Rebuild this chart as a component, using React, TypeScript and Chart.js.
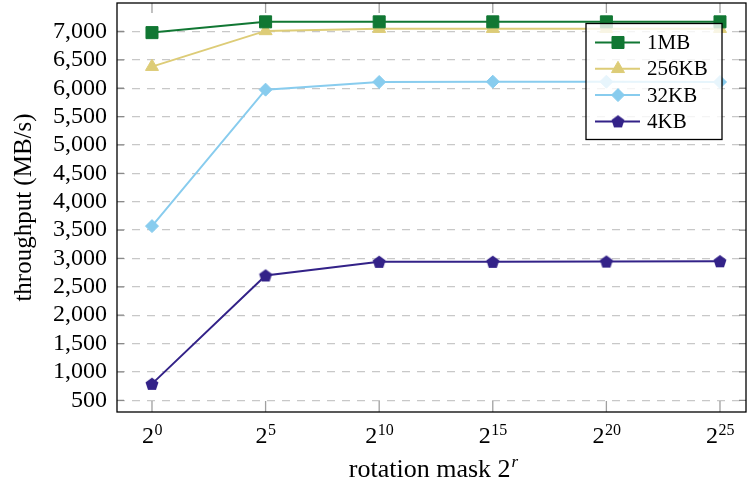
import React, { useEffect, useRef } from "react";
import { Chart, registerables } from "chart.js";
import { drawPoint } from "chart.js/helpers";

Chart.register(...registerables);

const exponents = ["0", "5", "10", "15", "20", "25"];
const seriesLabels = ["1MB", "256KB", "32KB", "4KB"];
const mb1 = [6980, 7170, 7170, 7170, 7170, 7170];
const kb256 = [6380, 7010, 7050, 7050, 7050, 7050];
const kb32 = [3570, 5975, 6110, 6115, 6115, 6110];
const kb4 = [790, 2700, 2940, 2940, 2945, 2950];
const yTicks = [500, 1000, 1500, 2000, 2500, 3000, 3500, 4000, 4500, 5000, 5500, 6000, 6500, 7000];

const SERIF = "'Liberation Serif', 'Times New Roman', serif";

function makePentagon(color: string, r: number): HTMLCanvasElement {
  const size = Math.ceil(r * 2 + 2);
  const c = document.createElement("canvas");
  c.width = size;
  c.height = size;
  const ctx = c.getContext("2d")!;
  const cx = size / 2;
  const cy = size / 2 + 0.5;
  ctx.beginPath();
  for (let i = 0; i < 5; i++) {
    const a = -Math.PI / 2 + (i * 2 * Math.PI) / 5;
    const x = cx + r * Math.cos(a);
    const y = cy + r * Math.sin(a);
    if (i === 0) ctx.moveTo(x, y);
    else ctx.lineTo(x, y);
  }
  ctx.closePath();
  ctx.fillStyle = color;
  ctx.fill();
  return c;
}

export default function App() {
  const ref = useRef<HTMLCanvasElement>(null);

  useEffect(() => {
    document.body.style.margin = "0";
    const canvas = ref.current!;
    const colors = ["#117733", "#DDCC77", "#88CCEE", "#332288"];
    const pent = makePentagon(colors[3], 6.8);
    const styles: any[] = ["rect", "triangle", "rectRot", pent];
    const radii = [8.5, 7.5, 6.5, 7];
    const values = [mb1, kb256, kb32, kb4];

    const datasets = values.map((vals, i) => ({
      label: seriesLabels[i],
      data: vals.map((v, j) => ({ x: j, y: v })),
      borderColor: colors[i],
      backgroundColor: colors[i],
      pointBackgroundColor: colors[i],
      pointBorderColor: colors[i],
      pointBorderWidth: 1,
      pointStyle: styles[i],
      pointRadius: radii[i],
      borderWidth: 2,
      tension: 0,
      clip: 12,
    }));

    const deco = {
      id: "deco",
      beforeDatasetsDraw(chart: any) {
        const { ctx, chartArea: a, scales } = chart;
        ctx.save();
        ctx.strokeStyle = "#8a8a8a";
        ctx.lineWidth = 1.3;
        yTicks.forEach((v) => {
          const y = scales.y.getPixelForValue(v);
          ctx.beginPath();
          ctx.moveTo(a.left, y);
          ctx.lineTo(a.left + 7, y);
          ctx.moveTo(a.right - 7, y);
          ctx.lineTo(a.right, y);
          ctx.stroke();
        });
        ctx.strokeStyle = "#a0a0a0";
        exponents.forEach((_, i) => {
          const x = scales.x.getPixelForValue(i);
          ctx.beginPath();
          ctx.moveTo(x, a.bottom);
          ctx.lineTo(x, a.bottom - 11);
          ctx.moveTo(x, a.top);
          ctx.lineTo(x, a.top + 10);
          ctx.stroke();
        });
        ctx.restore();
      },
      afterDraw(chart: any) {
        const { ctx, chartArea: a, scales } = chart;
        ctx.save();
        ctx.strokeStyle = "#000";
        ctx.lineWidth = 1.3;
        ctx.strokeRect(a.left, a.top, a.right - a.left, a.bottom - a.top);

        ctx.fillStyle = "#000";
        ctx.textBaseline = "alphabetic";
        exponents.forEach((e, i) => {
          const x = scales.x.getPixelForValue(i);
          ctx.font = `24px ${SERIF}`;
          const wb = ctx.measureText("2").width;
          ctx.font = `16px ${SERIF}`;
          const we = ctx.measureText(e).width;
          const start = x - (wb + we) / 2;
          ctx.font = `24px ${SERIF}`;
          ctx.textAlign = "left";
          ctx.fillText("2", start, 443);
          ctx.font = `16px ${SERIF}`;
          ctx.fillText(e, start + wb + 0.5, 435);
        });

        const cx = (a.left + a.right) / 2;
        ctx.font = `26px ${SERIF}`;
        const t1 = "rotation mask 2";
        const w1 = ctx.measureText(t1).width;
        ctx.font = `italic 17px ${SERIF}`;
        const w2 = ctx.measureText("r").width;
        const sx = cx - (w1 + w2 + 1) / 2 + 2;
        ctx.font = `26px ${SERIF}`;
        ctx.textAlign = "left";
        ctx.fillText(t1, sx, 477);
        ctx.font = `italic 17px ${SERIF}`;
        ctx.fillText("r", sx + w1 + 1, 467);

        const bx = a.right - 160;
        const by = a.top + 20.5;
        const bw = 136;
        const bh = 116;
        ctx.fillStyle = "rgba(255,255,255,0.8)";
        ctx.fillRect(bx, by, bw, bh);
        ctx.strokeStyle = "#000";
        ctx.lineWidth = 1.3;
        ctx.strokeRect(bx, by, bw, bh);
        chart.data.datasets.forEach((ds: any, i: number) => {
          const y = by + 19 + i * 26.3;
          ctx.strokeStyle = ds.borderColor;
          ctx.lineWidth = 2;
          ctx.beginPath();
          ctx.moveTo(bx + 9, y);
          ctx.lineTo(bx + 54, y);
          ctx.stroke();
          ctx.fillStyle = ds.pointBackgroundColor;
          ctx.strokeStyle = ds.pointBorderColor;
          ctx.lineWidth = 1;
          drawPoint(ctx, { pointStyle: ds.pointStyle, radius: ds.pointRadius, rotation: 0, borderWidth: 1 }, bx + 32, y);
          ctx.fillStyle = "#000";
          ctx.font = `21px ${SERIF}`;
          ctx.textAlign = "left";
          ctx.textBaseline = "middle";
          ctx.fillText(ds.label, bx + 61, y + 1);
        });
        ctx.restore();
      },
    };

    const chart = new Chart(canvas, {
      type: "line",
      data: { datasets },
      options: {
        animation: false,
        responsive: false,
        maintainAspectRatio: false,
        layout: { autoPadding: false, padding: { top: 3, right: 1, left: 0, bottom: 0 } },
        plugins: { legend: { display: false }, tooltip: { enabled: false } },
        scales: {
          x: {
            type: "linear",
            min: -0.308,
            max: 5.229,
            ticks: { display: false, stepSize: 1 },
            grid: { display: false },
            border: { display: false },
            afterFit: (s: any) => {
              s.height = 69;
              s.paddingLeft = 0;
              s.paddingRight = 0;
            },
          },
          y: {
            type: "linear",
            min: 294,
            max: 7502,
            afterBuildTicks: (s: any) => {
              s.ticks = yTicks.map((v) => ({ value: v }));
            },
            ticks: {
              autoSkip: false,
              color: "#000",
              padding: 10,
              font: { family: SERIF, size: 24 },
              callback: (v: any) => Number(v).toLocaleString("en-US"),
            },
            grid: {
              color: "#c8c8c8",
              lineWidth: 1.3,
              drawTicks: false,
            },
            border: { display: false, dash: [8, 7] },
            title: {
              display: true,
              text: "throughput (MB/s)",
              color: "#000",
              font: { family: SERIF, size: 25 },
              padding: { top: 9, bottom: 0 },
            },
            afterFit: (s: any) => {
              s.width = 117;
              s.paddingTop = 0;
              s.paddingBottom = 0;
            },
          },
        },
      },
      plugins: [deco],
    });

    return () => chart.destroy();
  }, []);

  return (
    <div style={{ width: 747, height: 481, position: "relative" }}>
      <canvas ref={ref} width={747} height={481} style={{ display: "block" }} />
    </div>
  );
}
